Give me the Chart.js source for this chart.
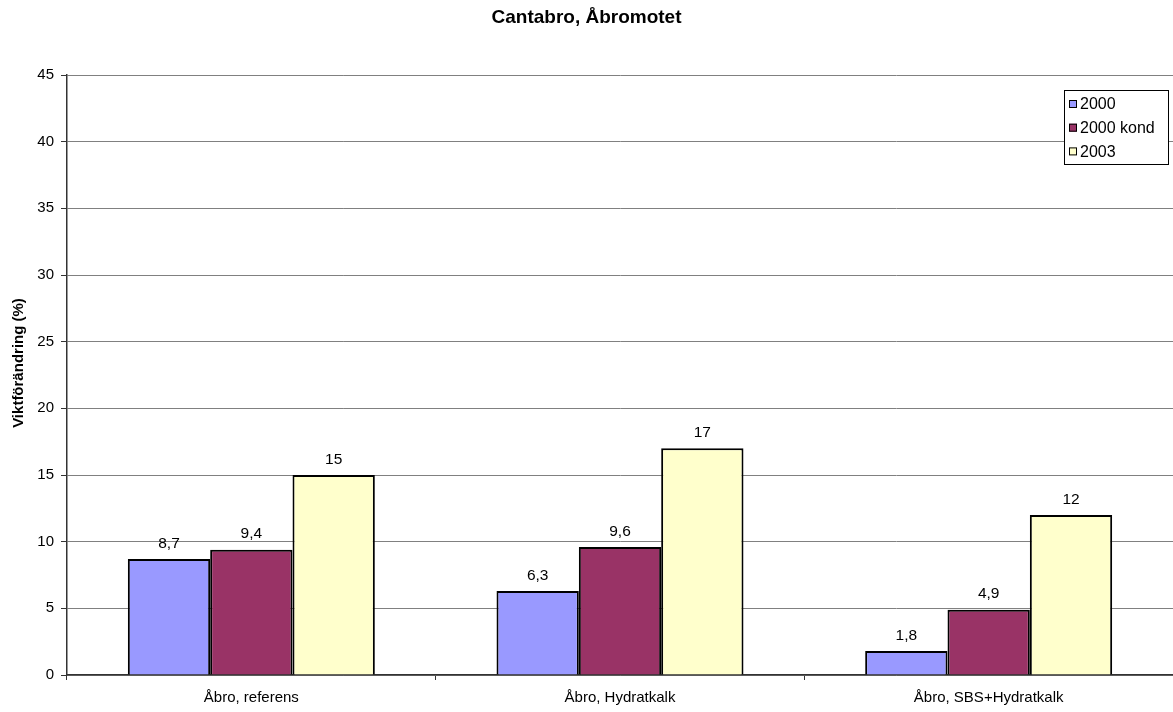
<!DOCTYPE html>
<html>
<head>
<meta charset="utf-8">
<title>Cantabro, Åbromotet</title>
<script src="https://cdn.jsdelivr.net/npm/chart.js@4.4.1/dist/chart.umd.min.js"></script>
<style>
  html, body { margin: 0; padding: 0; background: #ffffff; }
  #wrap { width: 1173px; height: 712px; }
</style>
</head>
<body>
<div id="wrap"><canvas id="c" width="1173" height="712"></canvas></div>
<script>
// Weight change per mix and year
const categories = ['Åbro, referens', 'Åbro, Hydratkalk', 'Åbro, SBS+Hydratkalk'];
const seriesNames = ['2000', '2000 kond', '2003'];
const values2000 = [8.7, 6.3, 1.8];
const values2000kond = [9.4, 9.6, 4.9];
const values2003 = [15, 17, 12];
const seriesColors = ['#9999FF', '#993366', '#FFFFCC'];
const yTicks = [0, 5, 10, 15, 20, 25, 30, 35, 40, 45];
const yAxisTitle = 'Viktförändring (%)';

const FONT = 'Liberation Sans, Arial, Helvetica, sans-serif';

// Numbers written with a decimal comma above each bar
const valueLabels = {
  id: 'valueLabels',
  afterDatasetsDraw(chart) {
    const ctx = chart.ctx;
    ctx.save();
    ctx.font = '15.5px ' + FONT;
    ctx.fillStyle = '#000';
    ctx.textAlign = 'center';
    ctx.textBaseline = 'bottom';
    chart.data.datasets.forEach((ds, i) => {
      const meta = chart.getDatasetMeta(i);
      meta.data.forEach((bar, j) => {
        const txt = String(ds.data[j]).replace('.', ',');
        ctx.fillText(txt, bar.x, bar.y - 8);
      });
    });
    ctx.restore();
  }
};

// Rotated axis title beside the value axis
const sideTitle = {
  id: 'sideTitle',
  afterDraw(chart) {
    const ctx = chart.ctx;
    ctx.save();
    ctx.translate(19, 363);
    ctx.rotate(-Math.PI / 2);
    ctx.font = 'bold 15px ' + FONT;
    ctx.fillStyle = '#000';
    ctx.textAlign = 'center';
    ctx.textBaseline = 'middle';
    ctx.fillText(yAxisTitle, 0, 0);
    ctx.restore();
  }
};

// Boxed legend in the upper right corner of the plot
const boxLegend = {
  id: 'boxLegend',
  afterDraw(chart) {
    const ctx = chart.ctx;
    const area = chart.chartArea;
    const w = 104, h = 74;
    const x = area.right - 5 - w, y = area.top + 15;
    ctx.save();
    ctx.fillStyle = '#fff';
    ctx.fillRect(x, y, w, h);
    ctx.strokeStyle = '#000';
    ctx.lineWidth = 1;
    ctx.strokeRect(x + 0.5, y + 0.5, w, h);
    ctx.font = '16px ' + FONT;
    ctx.textBaseline = 'middle';
    ctx.textAlign = 'left';
    chart.data.datasets.forEach((ds, i) => {
      const cy = y + 14 + i * 23.7;
      ctx.fillStyle = ds.backgroundColor;
      ctx.fillRect(x + 5, cy - 4, 8, 8);
      ctx.strokeStyle = '#000';
      ctx.strokeRect(x + 5.5, cy - 3.5, 7, 7);
      ctx.fillStyle = '#000';
      ctx.fillText(ds.label, x + 16, cy + 1);
    });
    ctx.restore();
  }
};

const datasetValues = [values2000, values2000kond, values2003];

new Chart(document.getElementById('c'), {
  type: 'bar',
  data: {
    labels: categories,
    datasets: seriesNames.map((name, i) => ({
      label: name,
      data: datasetValues[i],
      backgroundColor: seriesColors[i],
      borderColor: '#000000',
      borderWidth: 2,
      categoryPercentage: 0.67,
      barPercentage: 1.0
    }))
  },
  options: {
    responsive: false,
    devicePixelRatio: 1,
    animation: false,
    layout: { padding: { top: 0, right: 0, bottom: 0, left: 0 } },
    plugins: {
      legend: { display: false },
      tooltip: { enabled: false },
      title: {
        display: true,
        text: 'Cantabro, Åbromotet',
        color: '#000',
        font: { family: FONT, size: 19, weight: 'bold' },
        padding: { top: 6, bottom: 46.2 }
      }
    },
    scales: {
      x: {
        afterFit(scale) { scale.height = 37; },
        grid: {
          display: true,
          drawOnChartArea: false,
          drawTicks: true,
          tickLength: 5,
          tickColor: '#333',
          offset: true
        },
        border: { display: true, color: '#333', width: 1.5 },
        ticks: {
          color: '#000',
          font: { family: FONT, size: 15 },
          padding: 9,
          maxRotation: 0
        }
      },
      y: {
        min: 0,
        max: 45,
        afterFit(scale) { scale.width = 67; },
        afterBuildTicks(scale) { scale.ticks = yTicks.map(v => ({ value: v })); },
        grid: {
          color: '#808080',
          lineWidth: 1,
          tickLength: 6,
          tickColor: '#333'
        },
        border: { display: true, color: '#333', width: 1.5 },
        ticks: {
          color: '#000',
          font: { family: FONT, size: 15 },
          padding: 7
        }
      }
    }
  },
  plugins: [valueLabels, sideTitle, boxLegend]
});
</script>
</body>
</html>
